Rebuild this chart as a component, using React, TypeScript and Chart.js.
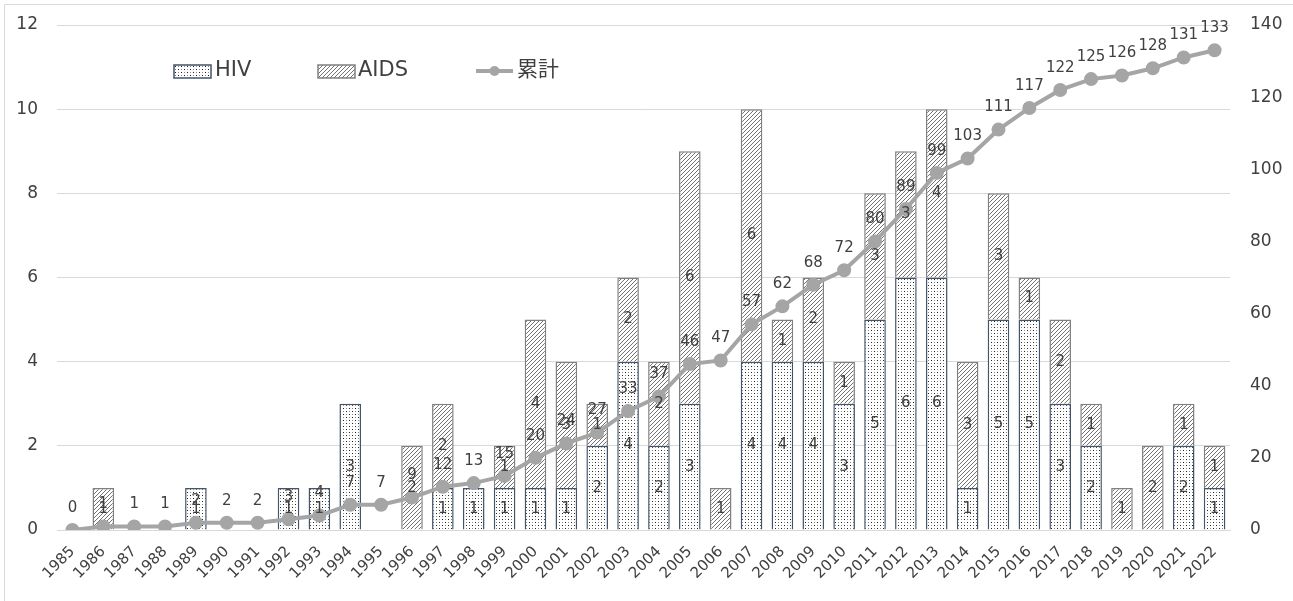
import React, { useEffect, useRef } from "react";
import { Chart, registerables } from "chart.js";

Chart.register(...registerables);

const years = [
  "1985", "1986", "1987", "1988", "1989", "1990", "1991", "1992", "1993", "1994",
  "1995", "1996", "1997", "1998", "1999", "2000", "2001", "2002", "2003", "2004",
  "2005", "2006", "2007", "2008", "2009", "2010", "2011", "2012", "2013", "2014",
  "2015", "2016", "2017", "2018", "2019", "2020", "2021", "2022",
];
const hivCounts = [
  0, 0, 0, 0, 1, 0, 0, 1, 1, 3,
  0, 0, 1, 1, 1, 1, 1, 2, 4, 2,
  3, 0, 4, 4, 4, 3, 5, 6, 6, 1,
  5, 5, 3, 2, 0, 0, 2, 1,
];
const aidsCounts = [
  0, 1, 0, 0, 0, 0, 0, 0, 0, 0,
  0, 2, 2, 0, 1, 4, 3, 1, 2, 2,
  6, 1, 6, 1, 2, 1, 3, 3, 4, 3,
  3, 1, 2, 1, 1, 2, 1, 1,
];
const cumulative = [
  0, 1, 1, 1, 2, 2, 2, 3, 4, 7,
  7, 9, 12, 13, 15, 20, 24, 27, 33, 37,
  46, 47, 57, 62, 68, 72, 80, 89, 99, 103,
  111, 117, 122, 125, 126, 128, 131, 133,
];
const seriesNames = ["HIV", "AIDS", "累計"];
const leftAxis = { min: 0, max: 12, step: 2 };
const rightAxis = { min: 0, max: 140, step: 20 };

const FONT = '"DejaVu Sans", "Noto Sans CJK JP", sans-serif';
const TEXT = "#404040";
const HIV_BORDER = "#44546A";
const AIDS_BORDER = "#808080";
const LINE_COLOR = "#A5A5A5";

function makeDots(): CanvasPattern | string {
  const c = document.createElement("canvas");
  c.width = 6;
  c.height = 6;
  const g = c.getContext("2d");
  if (!g) return "#fff";
  g.fillStyle = "#ffffff";
  g.fillRect(0, 0, 6, 6);
  g.fillStyle = "#1f1f1f";
  g.fillRect(1, 0, 1, 1);
  g.fillRect(4, 3, 1, 1);
  g.fillStyle = "#8a8a8a";
  g.fillRect(4, 0, 1, 1);
  g.fillRect(1, 3, 1, 1);
  const p = g.createPattern(c, "repeat");
  return p || "#fff";
}

function makeHatch(): CanvasPattern | string {
  const c = document.createElement("canvas");
  c.width = 4;
  c.height = 4;
  const g = c.getContext("2d");
  if (!g) return "#ddd";
  g.fillStyle = "#ffffff";
  g.fillRect(0, 0, 4, 4);
  g.strokeStyle = "#727272";
  g.lineWidth = 1;
  g.beginPath();
  g.moveTo(0, 4);
  g.lineTo(4, 0);
  g.moveTo(-1, 1);
  g.lineTo(1, -1);
  g.moveTo(3, 5);
  g.lineTo(5, 3);
  g.stroke();
  const p = g.createPattern(c, "repeat");
  return p || "#ddd";
}

const labelsPlugin = {
  id: "valueLabels",
  afterDatasetsDraw(chart: any) {
    const ctx = chart.ctx;
    ctx.save();
    ctx.font = `15px ${FONT}`;
    ctx.fillStyle = TEXT;
    ctx.textAlign = "center";
    ctx.textBaseline = "middle";
    chart.data.datasets.forEach((ds: any, i: number) => {
      const meta = chart.getDatasetMeta(i);
      meta.data.forEach((el: any, j: number) => {
        const v = ds.data[j];
        if (ds.type === "line") {
          ctx.fillText(String(v), el.x, el.y - 22);
        } else if (v > 0) {
          const p = el.getProps(["x", "y", "base"], true);
          ctx.fillText(String(v), p.x, (p.y + p.base) / 2);
        }
      });
    });
    ctx.restore();
  },
};

const legendAndFramePlugin = {
  id: "customLegend",
  afterDraw(chart: any) {
    const ctx = chart.ctx;
    const ds = chart.data.datasets;
    const hiv = ds.find((d: any) => d.label === seriesNames[0]);
    const aids = ds.find((d: any) => d.label === seriesNames[1]);
    const cum = ds.find((d: any) => d.label === seriesNames[2]);
    ctx.save();
    // frame
    ctx.strokeStyle = "#d9d9d9";
    ctx.lineWidth = 1;
    ctx.beginPath();
    ctx.moveTo(4.5, 601);
    ctx.lineTo(4.5, 4.5);
    ctx.lineTo(1293, 4.5);
    ctx.stroke();

    const y = 71;
    ctx.font = `21px ${FONT}`;
    ctx.textBaseline = "middle";
    ctx.textAlign = "left";
    // HIV
    ctx.fillStyle = hiv.backgroundColor;
    ctx.fillRect(174, 65, 37, 13);
    ctx.strokeStyle = HIV_BORDER;
    ctx.lineWidth = 1.5;
    ctx.strokeRect(174, 65, 37, 13);
    ctx.fillStyle = TEXT;
    ctx.fillText(hiv.label, 215, y);
    // AIDS
    ctx.fillStyle = aids.backgroundColor;
    ctx.fillRect(318, 65, 37, 13);
    ctx.strokeStyle = AIDS_BORDER;
    ctx.strokeRect(318, 65, 37, 13);
    ctx.fillStyle = TEXT;
    ctx.fillText(aids.label, 358, y);
    // line
    ctx.strokeStyle = LINE_COLOR;
    ctx.lineWidth = 4;
    ctx.beginPath();
    ctx.moveTo(476, y);
    ctx.lineTo(513, y);
    ctx.stroke();
    ctx.fillStyle = LINE_COLOR;
    ctx.beginPath();
    ctx.arc(494.5, y, 5, 0, Math.PI * 2);
    ctx.fill();
    ctx.fillStyle = TEXT;
    ctx.fillText(cum.label, 517, y);
    ctx.restore();
  },
};

export default function App() {
  const ref = useRef<HTMLCanvasElement | null>(null);

  useEffect(() => {
    document.body.style.margin = "0";
    const canvas = ref.current;
    if (!canvas) return;
    const chart = new Chart(canvas, {
      type: "bar",
      data: {
        labels: years,
        datasets: [
          {
            type: "line",
            label: seriesNames[2],
            data: cumulative,
            yAxisID: "yR",
            borderColor: LINE_COLOR,
            backgroundColor: LINE_COLOR,
            borderWidth: 4,
            pointRadius: 5,
            pointBackgroundColor: LINE_COLOR,
            pointBorderColor: LINE_COLOR,
            tension: 0,
            order: 0,
          } as any,
          {
            type: "bar",
            label: seriesNames[0],
            data: hivCounts,
            yAxisID: "y",
            stack: "s",
            backgroundColor: makeDots(),
            borderColor: HIV_BORDER,
            borderWidth: 1.5,
            barPercentage: 0.7,
            categoryPercentage: 1,
            order: 1,
          } as any,
          {
            type: "bar",
            label: seriesNames[1],
            data: aidsCounts,
            yAxisID: "y",
            stack: "s",
            backgroundColor: makeHatch(),
            borderColor: AIDS_BORDER,
            borderWidth: 1.5,
            barPercentage: 0.7,
            categoryPercentage: 1,
            order: 1,
          } as any,
        ],
      },
      options: {
        responsive: false,
        animation: false,
        devicePixelRatio: 1,
        layout: { padding: { top: 25, left: 0, right: 0, bottom: 0 } },
        plugins: {
          legend: { display: false },
          tooltip: { enabled: false },
        },
        scales: {
          x: {
            stacked: true,
            grid: { display: false, drawTicks: false },
            border: { display: true, color: "#d9d9d9" },
            ticks: {
              font: { family: FONT, size: 15 },
              color: TEXT,
              minRotation: 45,
              maxRotation: 45,
              autoSkip: false,
              padding: 13,
            },
            afterFit: (s: any) => {
              s.height = 71;
            },
          },
          y: {
            position: "left",
            stacked: true,
            min: leftAxis.min,
            max: leftAxis.max,
            grid: {
              color: "#d9d9d9",
              drawTicks: true,
              tickLength: 19,
              tickColor: "rgba(0,0,0,0)",
            },
            border: { display: false },
            ticks: {
              stepSize: leftAxis.step,
              font: { family: FONT, size: 17 },
              color: TEXT,
              padding: 0,
            },
            afterFit: (s: any) => {
              s.width = 57;
            },
          },
          yR: {
            position: "right",
            min: rightAxis.min,
            max: rightAxis.max,
            grid: {
              display: true,
              drawOnChartArea: false,
              drawTicks: true,
              tickLength: 20,
              color: "rgba(0,0,0,0)",
              tickColor: "rgba(0,0,0,0)",
            },
            border: { display: false },
            ticks: {
              stepSize: rightAxis.step,
              font: { family: FONT, size: 17 },
              color: TEXT,
              padding: 0,
            },
            afterFit: (s: any) => {
              s.width = 63;
            },
          },
        },
      } as any,
      plugins: [labelsPlugin, legendAndFramePlugin],
    });
    return () => chart.destroy();
  }, []);

  return (
    <div style={{ width: 1293, height: 601, position: "relative", background: "#fff" }}>
      <canvas ref={ref} width={1293} height={601} style={{ display: "block" }} />
    </div>
  );
}
